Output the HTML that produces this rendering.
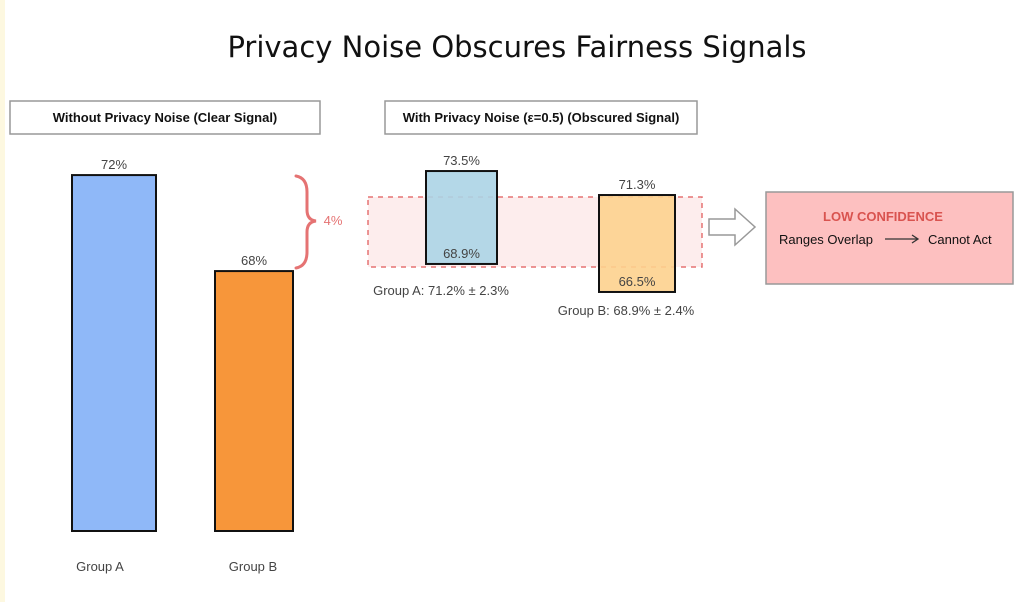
<!DOCTYPE html>
<html><head><meta charset="utf-8"><style>
body{margin:0;background:#fff;}
svg text{font-family:"Liberation Sans",sans-serif;}
</style></head><body>
<svg width="1024" height="602" viewBox="0 0 1024 602">
<rect x="0" y="0" width="5" height="602" fill="#fdf8e0"/>
<text x="517" y="57" text-anchor="middle" font-size="29" fill="#111" style="font-family:'DejaVu Sans',sans-serif">Privacy Noise Obscures Fairness Signals</text>
<rect x="10" y="101" width="310" height="33" fill="#fff" stroke="#999" stroke-width="1.5"/>
<text x="165" y="122" text-anchor="middle" font-size="13" font-weight="bold" fill="#111">Without Privacy Noise (Clear Signal)</text>
<rect x="385" y="101" width="312" height="33" fill="#fff" stroke="#999" stroke-width="1.5"/>
<text x="541" y="122" text-anchor="middle" font-size="13" font-weight="bold" fill="#111">With Privacy Noise (ε=0.5) (Obscured Signal)</text>
<g id="left"></g>
<rect x="368" y="197" width="334" height="70" fill="#fde8e8" fill-opacity="0.8" stroke="#e57373" stroke-width="1.5" stroke-dasharray="5,5"/>
<g id="right"></g>
<path d="M296 176 Q307 178 307 192 L307 210 Q307 220 316 221 Q307 222 307 232 L307 252 Q307 266 296 268" fill="none" stroke="#e57373" stroke-width="3" stroke-linecap="round"/>
<text x="333" y="225" text-anchor="middle" font-size="13" fill="#e57373">4%</text>
<path d="M709 219 L735 219 L735 209 L755 227 L735 245 L735 235 L709 235 Z" fill="#fff" stroke="#999" stroke-width="1.5"/>
<rect x="766" y="192" width="247" height="92" fill="#fdc0c0" stroke="#999" stroke-width="1.5"/>
<text x="883" y="221" text-anchor="middle" font-size="13" font-weight="bold" fill="#d9534f">LOW CONFIDENCE</text>
<text x="779" y="244" font-size="13" fill="#111">Ranges Overlap</text>
<path d="M885 239 L918 239 M912 235 L918 239 L912 243" fill="none" stroke="#333" stroke-width="1.3"/>
<text x="928" y="244" font-size="13" fill="#111">Cannot Act</text>
</svg>
<script>
const groups=["Group A","Group B"];
const clearValues=[72,68];
const noisyMeans=[71.2,68.9];
const noisyErr=[2.3,2.4];
const noisyLow=[68.9,66.5];
const noisyHigh=[73.5,71.3];
const NS="http://www.w3.org/2000/svg";
function mk(tag,attrs,parent,txt){const e=document.createElementNS(NS,tag);for(const k in attrs)e.setAttribute(k,attrs[k]);if(txt!==undefined)e.textContent=txt;parent.appendChild(e);return e;}
const yL=v=>531-(v-57.17)*24;
const midY=[217.5,243.5];
const yR=(v,i)=>midY[i]-(v-noisyMeans[i])*20.2;
const L=document.getElementById('left'),R=document.getElementById('right');
const lx=[72,215],lw=[84,78],lc=["#8fb8f8","#f7963a"],lab=[100,253];
clearValues.forEach((v,i)=>{
 const y=yL(v);
 const r=mk('rect',{x:lx[i],y:y,width:lw[i],height:531-y,fill:lc[i],stroke:'#111','stroke-width':2},L);
 
 
 const t=mk('text',{x:lx[i]+lw[i]/2,y:y-6,'text-anchor':'middle','font-size':13,fill:'#444'},L,v+'%');
 
 
 const g=mk('text',{x:lab[i],y:571,'text-anchor':'middle','font-size':13,fill:'#444'},L,groups[i]);
 
 
});
const rx=[426,599],rw=[71,76],rc=["#acd4e6","#fdd28e"],sx=[441,626],sdy=[31,23];
noisyLow.forEach((lo,i)=>{
 const yt=yR(noisyHigh[i],i),yb=yR(lo,i);
 const r=mk('rect',{x:rx[i],y:yt,width:rw[i],height:yb-yt,fill:rc[i],'fill-opacity':0.9,stroke:'#111','stroke-width':2},R);
 
 
 const t1=mk('text',{x:rx[i]+rw[i]/2,y:yt-6,'text-anchor':'middle','font-size':13,fill:'#444'},R,noisyHigh[i]+'%');
 
 
 const t2=mk('text',{x:rx[i]+rw[i]/2,y:yb-6,'text-anchor':'middle','font-size':13,fill:'#444'},R,lo+'%');
 
 
 const s=mk('text',{x:sx[i],y:yb+sdy[i],'text-anchor':'middle','font-size':13,fill:'#444'},R,groups[i]+': '+noisyMeans[i]+'% ± '+noisyErr[i]+'%');
 
 
});
</script>
</body></html>
